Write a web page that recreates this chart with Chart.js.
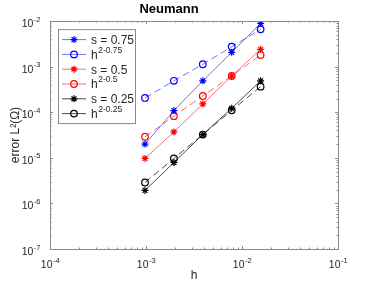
<!DOCTYPE html>
<html>
<head>
<meta charset="utf-8">
<script src="https://cdn.jsdelivr.net/npm/chart.js@4.4.1/dist/chart.umd.min.js"></script>
<style>
  body { margin: 0; background: #fff; }
</style>
</head>
<body>
<canvas id="myChart" width="374" height="288"></canvas>
<script>
'use strict';

// mesh sizes h = 2^-10 ... 2^-6
let hValues = [0.0009765625, 0.001953125, 0.00390625, 0.0078125, 0.015625];

// errors
let errS075 = [2.0e-5, 1.09e-4, 4.9e-4, 2.06e-3, 8.9e-3];
let refS075 = [2.06e-4, 4.9e-4, 1.13e-3, 2.74e-3, 6.6e-3];
let errS05 = [9.7e-6, 3.7e-5, 1.52e-4, 6.25e-4, 2.4e-3];
let refS05 = [2.9e-5, 8.2e-5, 2.28e-4, 6.25e-4, 1.8e-3];
let errS025 = [1.93e-6, 7.9e-6, 3.24e-5, 1.22e-4, 4.9e-4];
let refS025 = [2.88e-6, 9.7e-6, 3.24e-5, 1.1e-4, 3.65e-4];

let seriesLabels = ['s = 0.75', 'h|2-0.75', 's = 0.5', 'h|2-0.5', 's = 0.25', 'h|2-0.25'];

// axis decades (exponents of 10)
let xDecades = [-4, -3, -2, -1];
let yDecades = [-7, -6, -5, -4, -3, -2];

let FONT = '"Liberation Sans", Arial, Helvetica, sans-serif';
let AXIS_COLOR = '#8a8a8a';
let TEXT_COLOR = '#262626';

function toPoints(ys){
  let pts = [];
  for (let i=0; i<hValues.length; i++){
    pts.push({x: hValues[i], y: ys[i]});
  }
  return pts;
}

function makeSet(label, ys, color, lineColor, style, dashed){
  return {
    label: label,
    data: toPoints(ys),
    borderColor: lineColor,
    borderWidth: 1,
    borderDash: dashed ? [7, 4] : [],
    pointStyle: style,
    pointRadius: style === 'star' ? 3.5 : 3.3,
    pointBorderColor: color,
    pointBackgroundColor: 'rgba(0,0,0,0)',
    pointBorderWidth: 1.2,
    fill: false,
    tension: 0
  };
}

// draw "10" with a raised exponent
function drawPow(ctx, exp, x, y, align){
  let base = '10';
  let sup = '-' + Math.abs(exp);
  if (exp >= 0) sup = String(exp);
  ctx.font = '10.5px ' + FONT;
  let wb = ctx.measureText(base).width;
  ctx.font = '7.5px ' + FONT;
  let ws = ctx.measureText(sup).width;
  let total = wb + ws;
  let left = align === 'right' ? x - total : x - total / 2;
  ctx.fillStyle = TEXT_COLOR;
  ctx.textAlign = 'left';
  ctx.textBaseline = 'alphabetic';
  ctx.font = '10.5px ' + FONT;
  ctx.fillText(base, left, y);
  ctx.font = '7.5px ' + FONT;
  ctx.fillText(sup, left + wb + 0.5, y - 5.5);
}

let axesBox = {
  id: 'axesBox',
  afterDraw(chart){
    let ctx = chart.ctx;
    let a = chart.chartArea;
    let xs = chart.scales.x;
    let ys = chart.scales.y;
    ctx.save();
    ctx.strokeStyle = AXIS_COLOR;
    ctx.lineWidth = 1;
    ctx.strokeRect(Math.round(a.left) + 0.5, Math.round(a.top) + 0.5,
      Math.round(a.right - a.left), Math.round(a.bottom - a.top));

    // inward ticks on all four sides
    ctx.beginPath();
    for (let e of xDecades){
      for (let m=1; m<10; m++){
        let v = m * Math.pow(10, e);
        if (v > xs.max * 1.0001) break;
        let px = Math.round(xs.getPixelForValue(v)) + 0.5;
        let len = m === 1 ? 3 : 1.5;
        ctx.moveTo(px, a.bottom); ctx.lineTo(px, a.bottom - len);
        ctx.moveTo(px, a.top); ctx.lineTo(px, a.top + len);
      }
    }
    for (let e of yDecades){
      for (let m=1; m<10; m++){
        let v = m * Math.pow(10, e);
        if (v > ys.max * 1.0001) break;
        let py = Math.round(ys.getPixelForValue(v)) + 0.5;
        let len = m === 1 ? 3 : 1.5;
        ctx.moveTo(a.left, py); ctx.lineTo(a.left + len, py);
        ctx.moveTo(a.right, py); ctx.lineTo(a.right - len, py);
      }
    }
    ctx.stroke();

    // tick labels
    for (let e of xDecades){
      let px = xs.getPixelForValue(Math.pow(10, e));
      drawPow(ctx, e, px, a.bottom + 19);
    }
    for (let e of yDecades){
      let py = ys.getPixelForValue(Math.pow(10, e));
      drawPow(ctx, e, a.left - 10, py + 6, 'right');
    }
    ctx.restore();
  }
};

let boxLegend = {
  id: 'boxLegend',
  afterDraw(chart){
    let ctx = chart.ctx;
    let a = chart.chartArea;
    let bx = a.left + 8, by = a.top + 8, bw = 77, bh = 94;
    ctx.save();
    ctx.fillStyle = '#fff';
    ctx.fillRect(bx, by, bw, bh);
    ctx.strokeStyle = AXIS_COLOR;
    ctx.lineWidth = 1;
    ctx.strokeRect(bx + 0.5, by + 0.5, bw, bh);
    chart.data.datasets.forEach((ds, i) => {
      let cy = by + 10.5 + i * 14.8;
      ctx.strokeStyle = ds.borderColor;
      ctx.lineWidth = 1;
      ctx.setLineDash([]);
      ctx.beginPath();
      ctx.moveTo(bx + 4, cy); ctx.lineTo(bx + 28, cy);
      ctx.stroke();
      // marker
      let mx = bx + 16;
      ctx.strokeStyle = ds.pointBorderColor;
      ctx.lineWidth = 1.2;
      ctx.beginPath();
      if (ds.pointStyle === 'star'){
        let r = 3.5;
        ctx.moveTo(mx - r, cy); ctx.lineTo(mx + r, cy);
        ctx.moveTo(mx, cy - r); ctx.lineTo(mx, cy + r);
        let d = r * 0.7071;
        ctx.moveTo(mx - d, cy - d); ctx.lineTo(mx + d, cy + d);
        ctx.moveTo(mx - d, cy + d); ctx.lineTo(mx + d, cy - d);
      } else {
        ctx.arc(mx, cy, 3.3, 0, Math.PI * 2);
      }
      ctx.stroke();
      // text
      ctx.fillStyle = TEXT_COLOR;
      ctx.textBaseline = 'middle';
      ctx.textAlign = 'left';
      let parts = ds.label.split('|');
      ctx.font = '12px ' + FONT;
      ctx.fillText(parts[0], bx + 33, cy + 1);
      if (parts[1]){
        let w = ctx.measureText(parts[0]).width;
        ctx.font = '8.5px ' + FONT;
        ctx.fillText(parts[1], bx + 33 + w + 0.5, cy - 4);
      }
    });
    ctx.restore();
  }
};

let ctx = document.getElementById('myChart').getContext('2d');
new Chart(ctx, {
  type: 'line',
  data: {
    datasets: [
      makeSet(seriesLabels[0], errS075, '#0000ff', 'rgba(40,40,255,0.65)', 'star', false),
      makeSet(seriesLabels[1], refS075, '#0000ff', 'rgba(40,40,255,0.65)', 'circle', true),
      makeSet(seriesLabels[2], errS05, '#ff0000', 'rgba(255,30,30,0.65)', 'star', false),
      makeSet(seriesLabels[3], refS05, '#ff0000', 'rgba(255,30,30,0.65)', 'circle', true),
      makeSet(seriesLabels[4], errS025, '#000000', 'rgba(0,0,0,0.7)', 'star', false),
      makeSet(seriesLabels[5], refS025, '#000000', 'rgba(0,0,0,0.7)', 'circle', true)
    ]
  },
  options: {
    responsive: false,
    animation: false,
    layout: { padding: { right: 36, top: 0 } },
    plugins: {
      legend: { display: false },
      tooltip: { enabled: false },
      title: {
        display: true,
        text: 'Neumann',
        color: '#000',
        font: { family: FONT, size: 13, weight: 'bold' },
        padding: { top: 2, bottom: 3.5 }
      }
    },
    scales: {
      x: {
        type: 'logarithmic',
        position: 'bottom',
        min: 1e-4,
        max: 1e-1,
        grid: { display: false },
        border: { display: false },
        ticks: { display: false },
        title: {
          display: true,
          text: 'h',
          color: TEXT_COLOR,
          font: { family: FONT, size: 12 },
          padding: { top: 0, bottom: 5 }
        },
        afterFit(s){ s.height = 39; }
      },
      y: {
        type: 'logarithmic',
        position: 'left',
        min: 1e-7,
        max: 1e-2,
        grid: { display: false },
        border: { display: false },
        ticks: { display: false },
        title: {
          display: true,
          text: 'error L²(Ω)',
          color: TEXT_COLOR,
          font: { family: FONT, size: 12 },
          padding: { top: 8, bottom: 0 }
        },
        afterFit(s){ s.width = 50; }
      }
    }
  },
  plugins: [axesBox, boxLegend]
});
</script>
</body>
</html>
